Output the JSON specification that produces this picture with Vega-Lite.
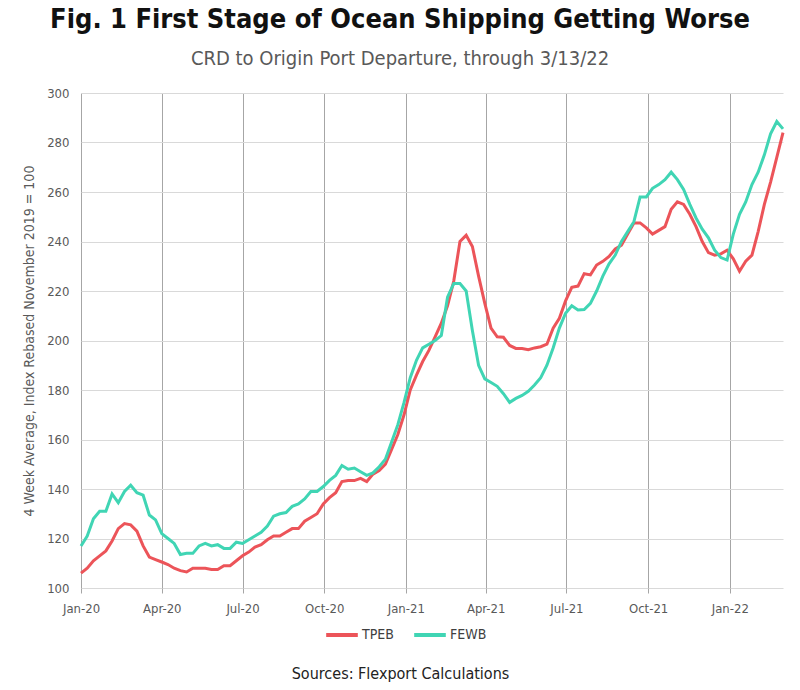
{
 "$schema": "https://vega.github.io/schema/vega-lite/v6.json",
 "width": 702, "height": 495,
 "autosize": {"type": "none"},
 "padding": {"left": 81, "top": 93, "right": 17, "bottom": 102},
 "background": "white",
 "config": {"font": "DejaVu Sans Condensed, Roboto, sans-serif", "view": {"stroke": null}},
 "title": {"text": "Fig. 1 First Stage of Ocean Shipping Getting Worse", "subtitle": "CRD to Origin Port Departure, through 3/13/22", "fontSize": 27, "font": "DejaVu Sans Condensed, Roboto, sans-serif", "fontWeight": "bold", "color": "#111111", "subtitleFontSize": 20, "subtitleColor": "#595959", "subtitleFont": "DejaVu Sans Condensed, Roboto, sans-serif", "subtitlePadding": 15, "offset": 17, "dx": -32, "anchor": "middle"},
 "data": {"values": [
{"d":"2020-01-01","s":"TPEB","v":106},{"d":"2020-01-08","s":"TPEB","v":108},{"d":"2020-01-15","s":"TPEB","v":111},{"d":"2020-01-22","s":"TPEB","v":113},{"d":"2020-01-29","s":"TPEB","v":115},{"d":"2020-02-05","s":"TPEB","v":119},{"d":"2020-02-12","s":"TPEB","v":124},{"d":"2020-02-19","s":"TPEB","v":126},{"d":"2020-02-26","s":"TPEB","v":125.5},{"d":"2020-03-04","s":"TPEB","v":123},{"d":"2020-03-11","s":"TPEB","v":117},{"d":"2020-03-18","s":"TPEB","v":112.5},{"d":"2020-03-25","s":"TPEB","v":111.5},{"d":"2020-04-01","s":"TPEB","v":110.5},{"d":"2020-04-08","s":"TPEB","v":109.5},{"d":"2020-04-15","s":"TPEB","v":108},{"d":"2020-04-22","s":"TPEB","v":107},{"d":"2020-04-29","s":"TPEB","v":106.5},{"d":"2020-05-06","s":"TPEB","v":108},{"d":"2020-05-13","s":"TPEB","v":108},{"d":"2020-05-20","s":"TPEB","v":108},{"d":"2020-05-27","s":"TPEB","v":107.5},{"d":"2020-06-03","s":"TPEB","v":107.5},{"d":"2020-06-10","s":"TPEB","v":109},{"d":"2020-06-17","s":"TPEB","v":109},{"d":"2020-06-24","s":"TPEB","v":111},{"d":"2020-07-01","s":"TPEB","v":113},{"d":"2020-07-08","s":"TPEB","v":114.5},{"d":"2020-07-15","s":"TPEB","v":116.5},{"d":"2020-07-22","s":"TPEB","v":117.5},{"d":"2020-07-29","s":"TPEB","v":119.5},{"d":"2020-08-05","s":"TPEB","v":121},{"d":"2020-08-12","s":"TPEB","v":121},{"d":"2020-08-19","s":"TPEB","v":122.5},{"d":"2020-08-26","s":"TPEB","v":124},{"d":"2020-09-02","s":"TPEB","v":124},{"d":"2020-09-09","s":"TPEB","v":127},{"d":"2020-09-16","s":"TPEB","v":128.5},{"d":"2020-09-23","s":"TPEB","v":130},{"d":"2020-09-30","s":"TPEB","v":134},{"d":"2020-10-07","s":"TPEB","v":136.5},{"d":"2020-10-14","s":"TPEB","v":138.5},{"d":"2020-10-21","s":"TPEB","v":143},{"d":"2020-10-28","s":"TPEB","v":143.4},{"d":"2020-11-04","s":"TPEB","v":143.4},{"d":"2020-11-11","s":"TPEB","v":144.3},{"d":"2020-11-18","s":"TPEB","v":143},{"d":"2020-11-25","s":"TPEB","v":146},{"d":"2020-12-02","s":"TPEB","v":147.5},{"d":"2020-12-09","s":"TPEB","v":150},{"d":"2020-12-16","s":"TPEB","v":156},{"d":"2020-12-23","s":"TPEB","v":162},{"d":"2020-12-30","s":"TPEB","v":170},{"d":"2021-01-06","s":"TPEB","v":180},{"d":"2021-01-13","s":"TPEB","v":186},{"d":"2021-01-20","s":"TPEB","v":191.5},{"d":"2021-01-27","s":"TPEB","v":196},{"d":"2021-02-03","s":"TPEB","v":201.5},{"d":"2021-02-10","s":"TPEB","v":207},{"d":"2021-02-17","s":"TPEB","v":214},{"d":"2021-02-24","s":"TPEB","v":224},{"d":"2021-03-03","s":"TPEB","v":240},{"d":"2021-03-10","s":"TPEB","v":242.5},{"d":"2021-03-17","s":"TPEB","v":238},{"d":"2021-03-24","s":"TPEB","v":226},{"d":"2021-03-31","s":"TPEB","v":215},{"d":"2021-04-07","s":"TPEB","v":205},{"d":"2021-04-14","s":"TPEB","v":201.5},{"d":"2021-04-21","s":"TPEB","v":201.3},{"d":"2021-04-28","s":"TPEB","v":198},{"d":"2021-05-05","s":"TPEB","v":196.8},{"d":"2021-05-12","s":"TPEB","v":196.8},{"d":"2021-05-19","s":"TPEB","v":196.3},{"d":"2021-05-26","s":"TPEB","v":197},{"d":"2021-06-02","s":"TPEB","v":197.5},{"d":"2021-06-09","s":"TPEB","v":198.5},{"d":"2021-06-16","s":"TPEB","v":205},{"d":"2021-06-23","s":"TPEB","v":209},{"d":"2021-06-30","s":"TPEB","v":216},{"d":"2021-07-07","s":"TPEB","v":221.5},{"d":"2021-07-14","s":"TPEB","v":222},{"d":"2021-07-21","s":"TPEB","v":227},{"d":"2021-07-28","s":"TPEB","v":226.5},{"d":"2021-08-04","s":"TPEB","v":230.5},{"d":"2021-08-11","s":"TPEB","v":232},{"d":"2021-08-18","s":"TPEB","v":234},{"d":"2021-08-25","s":"TPEB","v":237},{"d":"2021-09-01","s":"TPEB","v":238.5},{"d":"2021-09-08","s":"TPEB","v":243},{"d":"2021-09-15","s":"TPEB","v":247.5},{"d":"2021-09-22","s":"TPEB","v":247.5},{"d":"2021-09-29","s":"TPEB","v":245.5},{"d":"2021-10-06","s":"TPEB","v":243},{"d":"2021-10-13","s":"TPEB","v":244.5},{"d":"2021-10-20","s":"TPEB","v":246},{"d":"2021-10-27","s":"TPEB","v":253},{"d":"2021-11-03","s":"TPEB","v":256},{"d":"2021-11-10","s":"TPEB","v":255},{"d":"2021-11-17","s":"TPEB","v":251},{"d":"2021-11-24","s":"TPEB","v":246},{"d":"2021-12-01","s":"TPEB","v":240},{"d":"2021-12-08","s":"TPEB","v":235.5},{"d":"2021-12-15","s":"TPEB","v":234.5},{"d":"2021-12-22","s":"TPEB","v":235},{"d":"2021-12-29","s":"TPEB","v":236.5},{"d":"2022-01-05","s":"TPEB","v":233},{"d":"2022-01-12","s":"TPEB","v":228},{"d":"2022-01-19","s":"TPEB","v":232},{"d":"2022-01-26","s":"TPEB","v":234.5},{"d":"2022-02-02","s":"TPEB","v":244},{"d":"2022-02-09","s":"TPEB","v":255},{"d":"2022-02-16","s":"TPEB","v":264},{"d":"2022-02-23","s":"TPEB","v":274},{"d":"2022-03-02","s":"TPEB","v":284},
{"d":"2020-01-01","s":"FEWB","v":117},{"d":"2020-01-08","s":"FEWB","v":121},{"d":"2020-01-15","s":"FEWB","v":128},{"d":"2020-01-22","s":"FEWB","v":131},{"d":"2020-01-29","s":"FEWB","v":131},{"d":"2020-02-05","s":"FEWB","v":138},{"d":"2020-02-12","s":"FEWB","v":134.5},{"d":"2020-02-19","s":"FEWB","v":139},{"d":"2020-02-26","s":"FEWB","v":141.5},{"d":"2020-03-04","s":"FEWB","v":138.5},{"d":"2020-03-11","s":"FEWB","v":137.5},{"d":"2020-03-18","s":"FEWB","v":129.5},{"d":"2020-03-25","s":"FEWB","v":127.5},{"d":"2020-04-01","s":"FEWB","v":122},{"d":"2020-04-08","s":"FEWB","v":120},{"d":"2020-04-15","s":"FEWB","v":118},{"d":"2020-04-22","s":"FEWB","v":113.5},{"d":"2020-04-29","s":"FEWB","v":114},{"d":"2020-05-06","s":"FEWB","v":114},{"d":"2020-05-13","s":"FEWB","v":117},{"d":"2020-05-20","s":"FEWB","v":118},{"d":"2020-05-27","s":"FEWB","v":117},{"d":"2020-06-03","s":"FEWB","v":117.5},{"d":"2020-06-10","s":"FEWB","v":116},{"d":"2020-06-17","s":"FEWB","v":116},{"d":"2020-06-24","s":"FEWB","v":118.5},{"d":"2020-07-01","s":"FEWB","v":118},{"d":"2020-07-08","s":"FEWB","v":119.5},{"d":"2020-07-15","s":"FEWB","v":121},{"d":"2020-07-22","s":"FEWB","v":122.5},{"d":"2020-07-29","s":"FEWB","v":125},{"d":"2020-08-05","s":"FEWB","v":129},{"d":"2020-08-12","s":"FEWB","v":130},{"d":"2020-08-19","s":"FEWB","v":130.5},{"d":"2020-08-26","s":"FEWB","v":133},{"d":"2020-09-02","s":"FEWB","v":134},{"d":"2020-09-09","s":"FEWB","v":136},{"d":"2020-09-16","s":"FEWB","v":139},{"d":"2020-09-23","s":"FEWB","v":139},{"d":"2020-09-30","s":"FEWB","v":141},{"d":"2020-10-07","s":"FEWB","v":143.5},{"d":"2020-10-14","s":"FEWB","v":145.5},{"d":"2020-10-21","s":"FEWB","v":149.5},{"d":"2020-10-28","s":"FEWB","v":148},{"d":"2020-11-04","s":"FEWB","v":148.5},{"d":"2020-11-11","s":"FEWB","v":147},{"d":"2020-11-18","s":"FEWB","v":145.5},{"d":"2020-11-25","s":"FEWB","v":146.5},{"d":"2020-12-02","s":"FEWB","v":149},{"d":"2020-12-09","s":"FEWB","v":152},{"d":"2020-12-16","s":"FEWB","v":159},{"d":"2020-12-23","s":"FEWB","v":166},{"d":"2020-12-30","s":"FEWB","v":175},{"d":"2021-01-06","s":"FEWB","v":185},{"d":"2021-01-13","s":"FEWB","v":192},{"d":"2021-01-20","s":"FEWB","v":197},{"d":"2021-01-27","s":"FEWB","v":198.5},{"d":"2021-02-03","s":"FEWB","v":200},{"d":"2021-02-10","s":"FEWB","v":202},{"d":"2021-02-17","s":"FEWB","v":217.5},{"d":"2021-02-24","s":"FEWB","v":223},{"d":"2021-03-03","s":"FEWB","v":223},{"d":"2021-03-10","s":"FEWB","v":220},{"d":"2021-03-17","s":"FEWB","v":204},{"d":"2021-03-24","s":"FEWB","v":190},{"d":"2021-03-31","s":"FEWB","v":184.5},{"d":"2021-04-07","s":"FEWB","v":183},{"d":"2021-04-14","s":"FEWB","v":181.5},{"d":"2021-04-21","s":"FEWB","v":178.5},{"d":"2021-04-28","s":"FEWB","v":175},{"d":"2021-05-05","s":"FEWB","v":176.6},{"d":"2021-05-12","s":"FEWB","v":177.8},{"d":"2021-05-19","s":"FEWB","v":179.5},{"d":"2021-05-26","s":"FEWB","v":182},{"d":"2021-06-02","s":"FEWB","v":185},{"d":"2021-06-09","s":"FEWB","v":190},{"d":"2021-06-16","s":"FEWB","v":197},{"d":"2021-06-23","s":"FEWB","v":205},{"d":"2021-06-30","s":"FEWB","v":211},{"d":"2021-07-07","s":"FEWB","v":214},{"d":"2021-07-14","s":"FEWB","v":212.3},{"d":"2021-07-21","s":"FEWB","v":212.5},{"d":"2021-07-28","s":"FEWB","v":215},{"d":"2021-08-04","s":"FEWB","v":220},{"d":"2021-08-11","s":"FEWB","v":226},{"d":"2021-08-18","s":"FEWB","v":231},{"d":"2021-08-25","s":"FEWB","v":234.5},{"d":"2021-09-01","s":"FEWB","v":240},{"d":"2021-09-08","s":"FEWB","v":244},{"d":"2021-09-15","s":"FEWB","v":248},{"d":"2021-09-22","s":"FEWB","v":258},{"d":"2021-09-29","s":"FEWB","v":258},{"d":"2021-10-06","s":"FEWB","v":261.5},{"d":"2021-10-13","s":"FEWB","v":263},{"d":"2021-10-20","s":"FEWB","v":265},{"d":"2021-10-27","s":"FEWB","v":268},{"d":"2021-11-03","s":"FEWB","v":265},{"d":"2021-11-10","s":"FEWB","v":261},{"d":"2021-11-17","s":"FEWB","v":255},{"d":"2021-11-24","s":"FEWB","v":249.5},{"d":"2021-12-01","s":"FEWB","v":245},{"d":"2021-12-08","s":"FEWB","v":241.5},{"d":"2021-12-15","s":"FEWB","v":236.5},{"d":"2021-12-22","s":"FEWB","v":233.5},{"d":"2021-12-29","s":"FEWB","v":232.5},{"d":"2022-01-05","s":"FEWB","v":243},{"d":"2022-01-12","s":"FEWB","v":251},{"d":"2022-01-19","s":"FEWB","v":256},{"d":"2022-01-26","s":"FEWB","v":263},{"d":"2022-02-02","s":"FEWB","v":268},{"d":"2022-02-09","s":"FEWB","v":275},{"d":"2022-02-16","s":"FEWB","v":283.5},{"d":"2022-02-23","s":"FEWB","v":288.5},{"d":"2022-03-02","s":"FEWB","v":285.5}
 ]},
 "mark": {"type": "line", "strokeWidth": 3},
 "encoding": {
  "x": {"field": "d", "type": "temporal", "scale": {"type": "utc", "nice": false},
        "axis": {"format": "%b-%y", "tickCount": {"interval": "month", "step": 3}, "labelFontSize": 13, "labelColor": "#595959", "labelPadding": 9, "labelFlush": false, "gridColor": "#a6a6a6", "gridWidth": 1, "domain": false, "tickColor": "#a6a6a6", "tickSize": 5,
                 "title": "Sources: Flexport Calculations", "titleFontSize": 16, "titleFontWeight": "normal", "titleColor": "#222222", "titlePadding": 50, "titleX": 319}},
  "y": {"field": "v", "type": "quantitative", "scale": {"domain": [100, 300], "nice": false},
        "axis": {"values": [100, 120, 140, 160, 180, 200, 220, 240, 260, 280, 300], "labelFontSize": 13, "labelColor": "#595959", "labelPadding": 12, "ticks": false, "domain": false, "gridColor": "#d9d9d9", "gridWidth": 1,
                 "title": "4 Week Average, Index Rebased November 2019 = 100", "titleFontSize": 14, "titleFontWeight": "normal", "titleColor": "#595959", "titlePadding": 10}},
  "color": {"field": "s", "type": "nominal", "scale": {"domain": ["TPEB", "FEWB"], "range": ["#EC5459", "#40D5B4"]},
            "legend": {"orient": "none", "legendX": 243, "legendY": 524, "direction": "horizontal", "title": null, "symbolType": "stroke", "symbolSize": 1000, "symbolStrokeWidth": 4, "labelFontSize": 14, "labelColor": "#404040", "columnPadding": 12, "labelOffset": 2}}
 }
}
